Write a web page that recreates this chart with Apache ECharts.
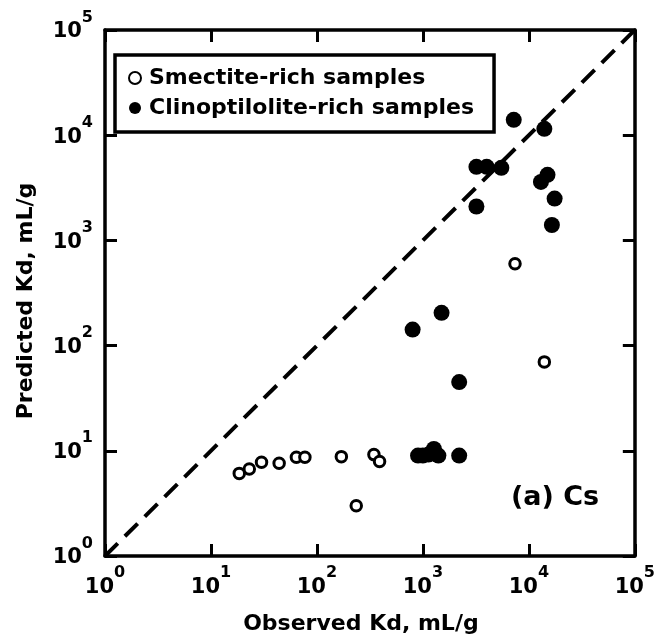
<!DOCTYPE html>
<html>
<head>
<meta charset="utf-8">
<script src="https://cdn.jsdelivr.net/npm/echarts@6/dist/echarts.min.js"></script>
<style>
html,body{margin:0;padding:0;background:#fff;}
#chart{width:658px;height:640px;}
</style>
</head>
<body>
<div id="chart"></div>
<script>
// Data (mL/g)
var smectiteObserved  = [18.5, 23, 30, 44, 64, 77, 170, 345, 390, 235, 7400, 14000];
var smectitePredicted = [6.1, 6.7, 7.8, 7.6, 8.7, 8.7, 8.8, 9.2, 7.9, 3.0, 600, 70];

var clinoObserved  = [7200, 14000, 3200, 4000, 5500, 13000, 15000, 17500, 16500, 3200, 1500, 800, 2200, 900, 1000, 1130, 1270, 1400, 2200];
var clinoPredicted = [14000, 11500, 5000, 5000, 4900, 3600, 4200, 2500, 1400, 2100, 205, 142, 45, 9, 9, 9.2, 10.4, 9, 9];

var oneToOneLine = [[1, 1], [100000, 100000]];
var axisMin = 1, axisMax = 100000;

var FONT = 'DejaVu Sans';

function pairs(xs, ys) { return xs.map(function (x, i) { return [x, ys[i]]; }); }

function powLabel(v) {
  var e = Math.round(Math.log10(v));
  return '{a|10}{b|' + e + '}';
}
var richPow = {
  a: { fontSize: 21, fontWeight: 'bold', fontFamily: FONT, color: '#000', lineHeight: 22, verticalAlign: 'bottom' },
  b: { fontSize: 16, fontWeight: 'bold', fontFamily: FONT, color: '#000', lineHeight: 16, padding: [0, 0, 17, 0], verticalAlign: 'bottom' }
};

var axisLineStyle = { lineStyle: { color: '#000', width: 3.5 } };
var tickStyle = { show: true, inside: true, length: 12, lineStyle: { color: '#000', width: 3 } };

var chart = echarts.init(document.getElementById('chart'));
chart.setOption({
  animation: false,
  backgroundColor: '#fff',
  grid: { left: 105, right: 18, top: 30, bottom: 83 },
  legend: {
    show: true,
    orient: 'vertical',
    left: 115, top: 55,
    padding: [11, 20, 12, 13],
    itemGap: 6,
    itemWidth: 12, itemHeight: 12,
    borderColor: '#000', borderWidth: 3.5,
    backgroundColor: '#fff',
    textStyle: { fontFamily: FONT, fontWeight: 'bold', fontSize: 22, color: '#000', lineHeight: 24, padding: [0, 0, 0, 3] },
    data: ['Smectite-rich samples', 'Clinoptilolite-rich samples']
  },
  xAxis: [{
    type: 'log', logBase: 10, min: axisMin, max: axisMax,
    position: 'bottom',
    name: 'Observed Kd, mL/g', nameLocation: 'middle', nameGap: 57,
    nameTextStyle: { fontFamily: FONT, fontWeight: 'bold', fontSize: 22, color: '#000', padding: [0, 18, 0, 0] },
    axisLine: axisLineStyle, axisTick: tickStyle,
    axisLabel: { formatter: powLabel, rich: richPow, margin: 20 },
    splitLine: { show: false }, minorTick: { show: false }
  }, {
    type: 'log', logBase: 10, min: axisMin, max: axisMax,
    position: 'top',
    axisLine: axisLineStyle, axisTick: tickStyle,
    axisLabel: { show: false }, splitLine: { show: false }
  }],
  yAxis: [{
    type: 'log', logBase: 10, min: axisMin, max: axisMax,
    position: 'left',
    name: 'Predicted Kd, mL/g', nameLocation: 'middle', nameGap: 68,
    nameTextStyle: { fontFamily: FONT, fontWeight: 'bold', fontSize: 22, color: '#000', padding: [0, 16, 0, 0] },
    axisLine: axisLineStyle, axisTick: tickStyle,
    axisLabel: { formatter: powLabel, rich: richPow, margin: 12, padding: [3, 0, 0, 0] },
    splitLine: { show: false }, minorTick: { show: false }
  }, {
    type: 'log', logBase: 10, min: axisMin, max: axisMax,
    position: 'right',
    axisLine: axisLineStyle, axisTick: tickStyle,
    axisLabel: { show: false }, splitLine: { show: false }
  }],
  graphic: [{
    type: 'text', left: 511, top: 484,
    style: { text: '(a) Cs', font: 'bold 27px "DejaVu Sans"', fill: '#000' }
  }],
  series: [{
    name: 'one-to-one', type: 'line', data: oneToOneLine,
    symbol: 'none', silent: true,
    lineStyle: { color: '#000', width: 4, type: [18, 10] }, z: 1
  }, {
    name: 'Smectite-rich samples', type: 'scatter',
    data: pairs(smectiteObserved, smectitePredicted),
    symbol: 'circle', symbolSize: 10.5,
    itemStyle: { color: '#fff', borderColor: '#000', borderWidth: 3, opacity: 1 }, z: 3
  }, {
    name: 'Clinoptilolite-rich samples', type: 'scatter',
    data: pairs(clinoObserved, clinoPredicted),
    symbol: 'circle', symbolSize: 16,
    itemStyle: { color: '#000', borderWidth: 0, opacity: 1 }, z: 2
  }]
});
</script>
</body>
</html>
